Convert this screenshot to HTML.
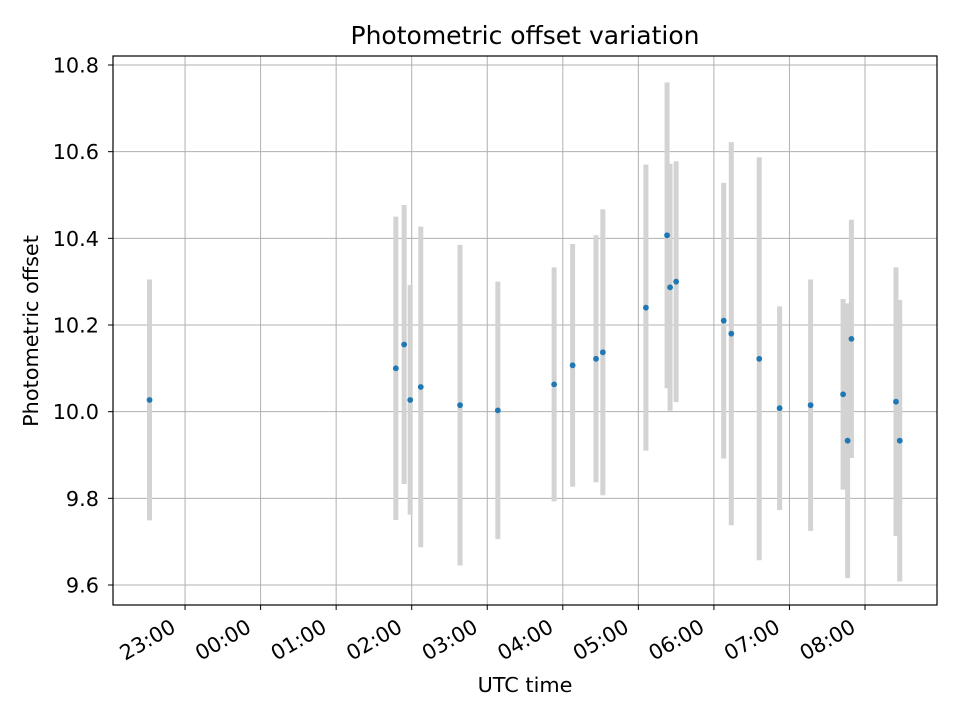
<!DOCTYPE html>
<html><head><meta charset="utf-8"><style>
body{margin:0;background:#fff}
svg text{font-family:"DejaVu Sans","Liberation Sans",sans-serif;fill:#000}
</style></head><body>
<svg id="chart" width="960" height="720" viewBox="0 0 960 720" xmlns="http://www.w3.org/2000/svg">
<rect width="960" height="720" fill="#fff"/>
<text x="525" y="44" font-size="25" text-anchor="middle">Photometric offset variation</text>
<g id="grid"></g><g id="bars"></g><g id="pts"></g><g id="ticks"></g>
<rect x="113" y="56" width="824" height="549" fill="none" stroke="#000" stroke-width="1.2"/>
<text x="525" y="692" font-size="20.8" text-anchor="middle">UTC time</text>
<text x="38" y="331" font-size="20.8" text-anchor="middle" transform="rotate(-90 38 331)">Photometric offset</text>
</svg>
<script>
const times=[-1.47,1.79,1.90,1.98,2.12,2.64,3.14,3.885,4.13,4.44,4.53,5.10,5.38,5.42,5.50,6.13,6.23,6.60,6.87,7.28,7.71,7.77,7.82,8.41,8.46];
const offsets=[10.027,10.10,10.155,10.027,10.057,10.015,10.003,10.063,10.107,10.122,10.137,10.24,10.407,10.287,10.30,10.21,10.18,10.122,10.008,10.015,10.04,9.933,10.168,10.023,9.933];
const errors=[0.278,0.35,0.322,0.265,0.37,0.37,0.297,0.27,0.28,0.285,0.33,0.33,0.353,0.285,0.278,0.318,0.442,0.465,0.235,0.29,0.22,0.317,0.275,0.31,0.325];
const xTickHours=[-1,0,1,2,3,4,5,6,7,8];
const xTickLabels=["23:00","00:00","01:00","02:00","03:00","04:00","05:00","06:00","07:00","08:00"];
const yTicks=[9.6,9.8,10.0,10.2,10.4,10.6,10.8];
const yTickLabels=["9.6","9.8","10.0","10.2","10.4","10.6","10.8"];
const X=h=>260.6+h*75.55;
const Y=v=>585-(v-9.6)*433.33;
const NS="http://www.w3.org/2000/svg";
function mk(tag,attrs,parent){const e=document.createElementNS(NS,tag);for(const k in attrs)e.setAttribute(k,attrs[k]);document.getElementById(parent).appendChild(e);return e;}
xTickHours.forEach((h,i)=>{const x=X(h);
 const g=mk('line',{x1:x,x2:x,y1:56,y2:605,stroke:'#b0b0b0','stroke-width':1},'grid');
 
 
 const t=mk('line',{x1:x,x2:x,y1:605,y2:610,stroke:'#000','stroke-width':1},'ticks');
 
 
 const ex=x-8, ey=631;
 const l=mk('text',{x:ex,y:ey,'font-size':20.8,'text-anchor':'end',transform:`rotate(-30 ${ex} ${ey})`},'ticks');
 l.textContent=xTickLabels[i];
 
 
});
yTicks.forEach((v,i)=>{const y=Y(v);
 const g=mk('line',{x1:113,x2:937,y1:y,y2:y,stroke:'#b0b0b0','stroke-width':1},'grid');
 
 
 const t=mk('line',{x1:108,x2:113,y1:y,y2:y,stroke:'#000','stroke-width':1},'ticks');
 
 
 const l=mk('text',{x:99,y:y+7.5,'font-size':20.8,'text-anchor':'end'},'ticks');
 l.textContent=yTickLabels[i];
 
 
});
times.forEach((h,i)=>{const x=X(h);
 const b=mk('line',{x1:x,x2:x,y1:Y(offsets[i]+errors[i]),y2:Y(offsets[i]-errors[i]),stroke:'#d3d3d3','stroke-width':5},'bars');
 
 
 const p=mk('circle',{cx:x,cy:Y(offsets[i]),r:2.9,fill:'#1f77b4'},'pts');
 
 
});
</script>
</body></html>
